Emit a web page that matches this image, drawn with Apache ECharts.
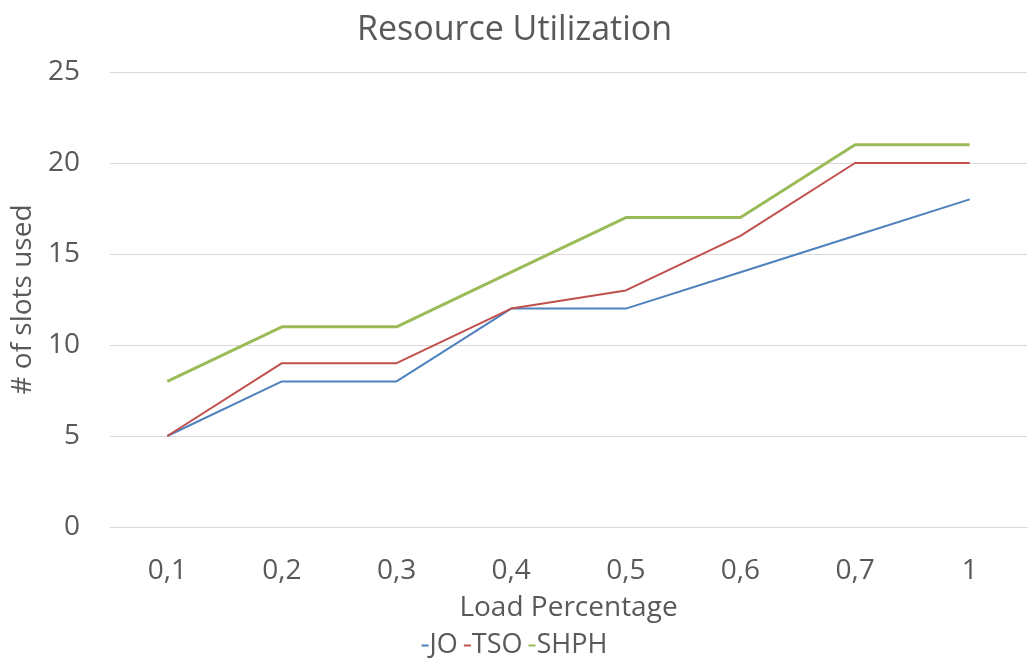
<!DOCTYPE html>
<html>
<head>
<meta charset="utf-8">
<script src="https://cdn.jsdelivr.net/npm/echarts@6/dist/echarts.min.js"></script>
<style>
  html, body { margin: 0; padding: 0; background: #fff; }
  #chart { width: 1029px; height: 666px; }
</style>
</head>
<body>
<div id="chart"></div>
<script>
const loadLevels = ['0,1', '0,2', '0,3', '0,4', '0,5', '0,6', '0,7', '1'];
const joSlots = [5, 8, 8, 12, 12, 14, 16, 18];
const tsoSlots = [5, 9, 9, 12, 13, 16, 20, 20];
const shphSlots = [8, 11, 11, 14, 17, 17, 21, 21];

const textColor = '#595959';
const font = 'Open Sans';

const chart = echarts.init(document.getElementById('chart'));
chart.setOption({
  animation: false,
  title: {
    text: 'Resource Utilization',
    left: 'center',
    top: 8,
    textStyle: { color: textColor, fontSize: 34, fontWeight: 'normal', fontFamily: font }
  },
  legend: {
    bottom: 2,
    left: 'center',
    itemWidth: 7,
    itemHeight: 2,
    itemGap: 6,
    icon: 'rect',
    textStyle: { color: textColor, fontSize: 27, fontFamily: font, padding: [0, 0, 0, -4] },
    data: ['JO', 'TSO', 'SHPH']
  },
  grid: { left: 110, right: 2, top: 72, bottom: 139 },
  xAxis: {
    type: 'category',
    data: loadLevels,
    boundaryGap: true,
    name: 'Load Percentage',
    nameLocation: 'middle',
    nameGap: 67,
    nameTextStyle: { color: textColor, fontSize: 28, fontFamily: font },
    axisLine: { lineStyle: { color: '#d9d9d9', width: 1 } },
    axisTick: { show: false },
    axisLabel: { color: textColor, fontSize: 28, fontFamily: font, margin: 30 }
  },
  yAxis: {
    type: 'value',
    min: 0,
    max: 25,
    interval: 5,
    name: '# of slots used',
    nameLocation: 'middle',
    nameGap: 68,
    nameTextStyle: { color: textColor, fontSize: 28, fontFamily: font },
    axisLine: { show: false },
    axisTick: { show: false },
    axisLabel: { color: textColor, fontSize: 28, fontFamily: font, margin: 30 },
    splitLine: { lineStyle: { color: '#d9d9d9', width: 1 } }
  },
  series: [
    { name: 'JO', type: 'line', data: joSlots, symbol: 'none', color: '#4f81bd', lineStyle: { width: 2 } },
    { name: 'TSO', type: 'line', data: tsoSlots, symbol: 'none', color: '#c0504d', lineStyle: { width: 2 } },
    { name: 'SHPH', type: 'line', data: shphSlots, symbol: 'none', color: '#9bbb59', lineStyle: { width: 3 } }
  ]
});
</script>
</body>
</html>
